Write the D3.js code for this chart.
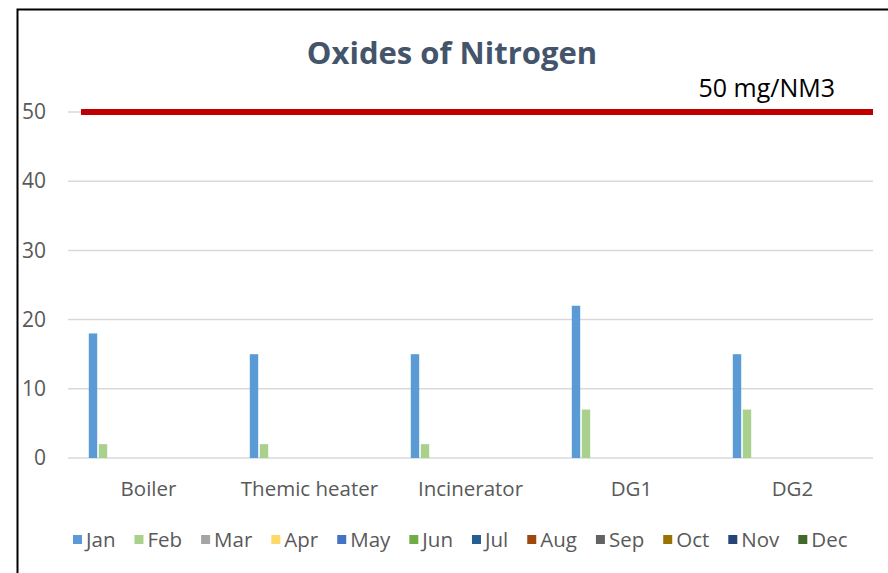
<!DOCTYPE html>
<html>
<head>
<meta charset="utf-8">
<script src="https://cdn.jsdelivr.net/npm/d3@7"></script>
<style>
  body { margin: 0; background: #fff; }
  svg { display: block; font-family: "Open Sans", "Liberation Sans", sans-serif; }
</style>
</head>
<body>
<div id="chart"></div>
<script>
// Data
const categories = ["Boiler", "Themic heater", "Incinerator", "DG1", "DG2"];
const months = ["Jan", "Feb", "Mar", "Apr", "May", "Jun", "Jul", "Aug", "Sep", "Oct", "Nov", "Dec"];
const janValues = [18, 15, 15, 22, 15];
const febValues = [2, 2, 2, 7, 7];
const yTicks = [0, 10, 20, 30, 40, 50];
const limitValue = 50;
const limitLabel = "50 mg/NM3";
const monthColors = ["#5B9BD5", "#A9D18E", "#A5A5A5", "#FFD966", "#4472C4", "#70AD47",
                     "#255E91", "#9E480E", "#636363", "#997300", "#264478", "#43682B"];

// series values: only Jan and Feb reported
const seriesValues = { Jan: janValues, Feb: febValues };

const W = 888, H = 573;
const plot = { left: 68, right: 873, top: 112, bottom: 458 };

const svg = d3.select("#chart").append("svg")
    .attr("width", W)
    .attr("height", H);

// chart frame
svg.append("rect")
    .attr("x", 17.5).attr("y", 9.5)
    .attr("width", 900).attr("height", 600)
    .attr("fill", "#fff")
    .attr("stroke", "#000")
    .attr("stroke-width", 2);

// Scales
const x0 = d3.scaleBand().domain(categories).range([plot.left, plot.right]);
const x1 = d3.scaleBand().domain(months).range([0, x0.bandwidth()])
    .paddingInner(0).paddingOuter(2.05);
const y = d3.scaleLinear().domain([0, 50]).range([plot.bottom, plot.top]);

// Gridlines
svg.append("g")
    .selectAll("line")
    .data(yTicks)
    .join("line")
    .attr("x1", plot.left).attr("x2", plot.right)
    .attr("y1", d => y(d)).attr("y2", d => y(d))
    .attr("stroke", "#d9d9d9")
    .attr("stroke-width", 1.5);

// Y axis labels
const yAxis = svg.append("g")
    .attr("transform", `translate(46, 0)`)
    .call(d3.axisLeft(y).tickValues(yTicks).tickSize(0).tickPadding(0));
yAxis.select(".domain").remove();
yAxis.selectAll("text")
    .attr("fill", "#595959")
    .style("font-size", "21px")
    .style("font-family", "'Open Sans', sans-serif");

// Bars
const barData = [];
categories.forEach((c, i) => {
    months.forEach(m => {
        if (seriesValues[m]) barData.push({ cat: c, month: m, value: seriesValues[m][i] });
    });
});

svg.append("g")
    .selectAll("rect")
    .data(barData)
    .join("rect")
    .attr("x", d => x0(d.cat) + x1(d.month) + 0.3)
    .attr("y", d => y(d.value))
    .attr("width", x1.bandwidth() * 0.84)
    .attr("height", d => y(0) - y(d.value))
    .attr("fill", d => monthColors[months.indexOf(d.month)]);

// X axis labels
const xAxis = svg.append("g")
    .attr("transform", `translate(0, ${plot.bottom + 23})`)
    .call(d3.axisBottom(x0).tickSize(0).tickPadding(0));
xAxis.select(".domain").remove();
xAxis.selectAll("text")
    .attr("fill", "#595959")
    .attr("dy", "0.75em")
    .style("font-size", "20.5px")
    .style("font-family", "'Open Sans', sans-serif");

// Limit line
svg.append("line")
    .attr("x1", 81).attr("x2", plot.right)
    .attr("y1", y(limitValue)).attr("y2", y(limitValue))
    .attr("stroke", "#C00000")
    .attr("stroke-width", 6);

svg.append("text")
    .attr("x", 835)
    .attr("y", y(limitValue) - 15)
    .attr("text-anchor", "end")
    .attr("fill", "#000")
    .style("font-size", "25px")
    .text(limitLabel);

// Title
svg.append("text")
    .attr("x", 452)
    .attr("y", 64)
    .attr("text-anchor", "middle")
    .attr("fill", "#44546A")
    .style("font-size", "31px")
    .style("font-weight", "bold")
    .text("Oxides of Nitrogen");

// Legend
const legend = svg.append("g").attr("transform", "translate(73, 540)");
let lx = 0;
months.forEach((m, i) => {
    const g = legend.append("g").attr("transform", `translate(${lx}, 0)`);
    g.append("rect")
        .attr("x", 0).attr("y", -5)
        .attr("width", 9).attr("height", 9)
        .attr("fill", monthColors[i]);
    const t = g.append("text")
        .attr("x", 13)
        .attr("y", 0)
        .attr("dy", "0.35em")
        .attr("fill", "#595959")
        .style("font-size", "20.5px")
        .text(m);
    lx += 13 + t.node().getComputedTextLength() + 19;
});
</script>
</body>
</html>
